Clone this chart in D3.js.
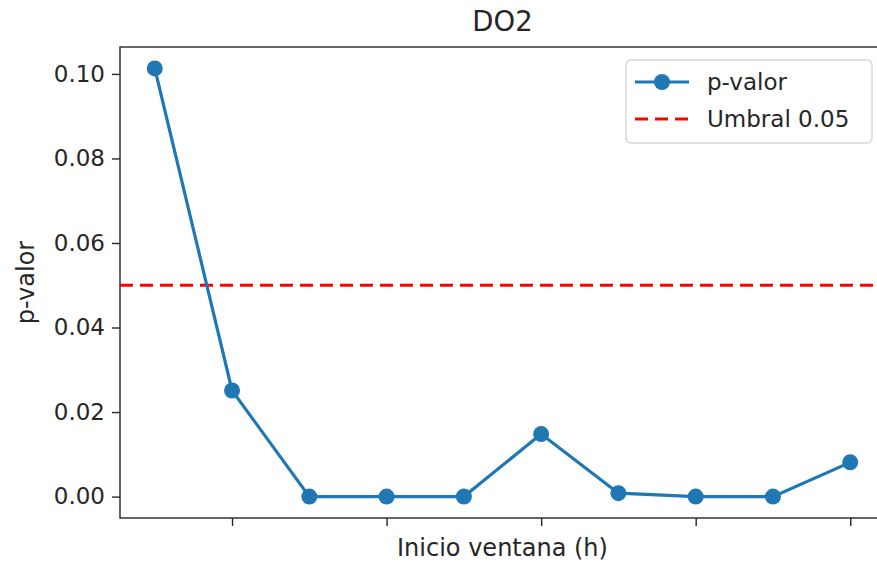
<!DOCTYPE html>
<html>
<head>
<meta charset="utf-8">
<script src="https://cdn.jsdelivr.net/npm/d3@7"></script>
<style>
  body { margin: 0; background: #fff; }
  svg { display: block; font-family: "DejaVu Sans", sans-serif; }
</style>
</head>
<body>
<svg id="chart" width="877" height="565"></svg>
<script>
// ventana index and p-valor
var ventana = [0, 1, 2, 3, 4, 5, 6, 7, 8, 9];
var pvalor = [0.1013, 0.0251, 0.0, 0.0, 0.0, 0.0148, 0.0008, 0.0, 0.0, 0.0081];
var umbral = 0.05;
var xTicks = [1, 3, 5, 7, 9];
var yTicks = [0.00, 0.02, 0.04, 0.06, 0.08, 0.10];

var width = 877, height = 565;
var margin = {top: 47, right: -8, bottom: 47, left: 120};
var blue = "#1f77b4", ink = "#262626";

var svg = d3.select("#chart");

var x = d3.scaleLinear()
  .domain([-0.45, 9.45])
  .range([margin.left, width - margin.right]);

var yMax = d3.max(pvalor);
var y = d3.scaleLinear()
  .domain([-yMax * 0.05, yMax * 1.05])
  .range([height - margin.bottom, margin.top]);

// axes
var xAxis = svg.append("g")
  .attr("transform", "translate(0," + (height - margin.bottom) + ")")
  .call(d3.axisBottom(x).tickValues(xTicks).tickFormat("").tickSizeInner(8).tickSizeOuter(0));

var yAxis = svg.append("g")
  .attr("transform", "translate(" + margin.left + ",0)")
  .call(d3.axisLeft(y).tickValues(yTicks).tickFormat(d3.format(".2f")).tickSizeInner(8).tickSizeOuter(0).tickPadding(7));

[xAxis, yAxis].forEach(function (g) {
  g.select(".domain").remove();
  g.selectAll(".tick line").attr("stroke", ink).attr("stroke-width", 1.4);
  g.selectAll(".tick text").attr("fill", ink).style("font-size", "23px").style("font-family", "DejaVu Sans");
});

// frame
svg.append("rect")
  .attr("x", margin.left)
  .attr("y", margin.top)
  .attr("width", x.range()[1] - margin.left)
  .attr("height", height - margin.bottom - margin.top)
  .attr("fill", "none")
  .attr("stroke", ink)
  .attr("stroke-width", 1.4);

// threshold
svg.append("line")
  .attr("x1", margin.left).attr("x2", x.range()[1])
  .attr("y1", y(umbral)).attr("y2", y(umbral))
  .attr("stroke", "#ff0000")
  .attr("stroke-width", 3.2)
  .attr("stroke-dasharray", "13,7");

// series
var line = d3.line()
  .x(function (d, i) { return x(ventana[i]); })
  .y(function (d) { return y(d); });

svg.append("path")
  .datum(pvalor)
  .attr("d", line)
  .attr("fill", "none")
  .attr("stroke", blue)
  .attr("stroke-width", 3.2);

svg.selectAll("circle.pt")
  .data(pvalor)
  .enter()
  .append("circle")
  .attr("class", "pt")
  .attr("cx", function (d, i) { return x(ventana[i]); })
  .attr("cy", function (d) { return y(d); })
  .attr("r", 8)
  .attr("fill", blue);

// labels
svg.append("text")
  .attr("x", (margin.left + x.range()[1]) / 2)
  .attr("y", 31)
  .attr("text-anchor", "middle")
  .attr("fill", ink)
  .style("font-size", "27.5px")
  .text("DO2");

svg.append("text")
  .attr("x", (margin.left + x.range()[1]) / 2)
  .attr("y", 556)
  .attr("text-anchor", "middle")
  .attr("fill", ink)
  .style("font-size", "24px")
  .text("Inicio ventana (h)");

svg.append("text")
  .attr("transform", "translate(34," + ((margin.top + height - margin.bottom) / 2) + ") rotate(-90)")
  .attr("text-anchor", "middle")
  .attr("fill", ink)
  .style("font-size", "24px")
  .text("p-valor");

// legend
var legend = svg.append("g").attr("transform", "translate(626,60)");
legend.append("rect")
  .attr("width", 246).attr("height", 83)
  .attr("rx", 5)
  .attr("fill", "#fff").attr("fill-opacity", 0.8)
  .attr("stroke", "#d6d6d6").attr("stroke-width", 1.4);

legend.append("line")
  .attr("x1", 9).attr("x2", 63).attr("y1", 22).attr("y2", 22)
  .attr("stroke", blue).attr("stroke-width", 3.2);
legend.append("circle")
  .attr("cx", 36).attr("cy", 22).attr("r", 8).attr("fill", blue);
legend.append("text")
  .attr("x", 81).attr("y", 30)
  .attr("fill", ink).style("font-size", "23px")
  .text("p-valor");

legend.append("line")
  .attr("x1", 9).attr("x2", 63).attr("y1", 59).attr("y2", 59)
  .attr("stroke", "#ff0000").attr("stroke-width", 3.2)
  .attr("stroke-dasharray", "13,7");
legend.append("text")
  .attr("x", 81).attr("y", 67)
  .attr("fill", ink).style("font-size", "23px")
  .text("Umbral 0.05");
</script>
</body>
</html>
